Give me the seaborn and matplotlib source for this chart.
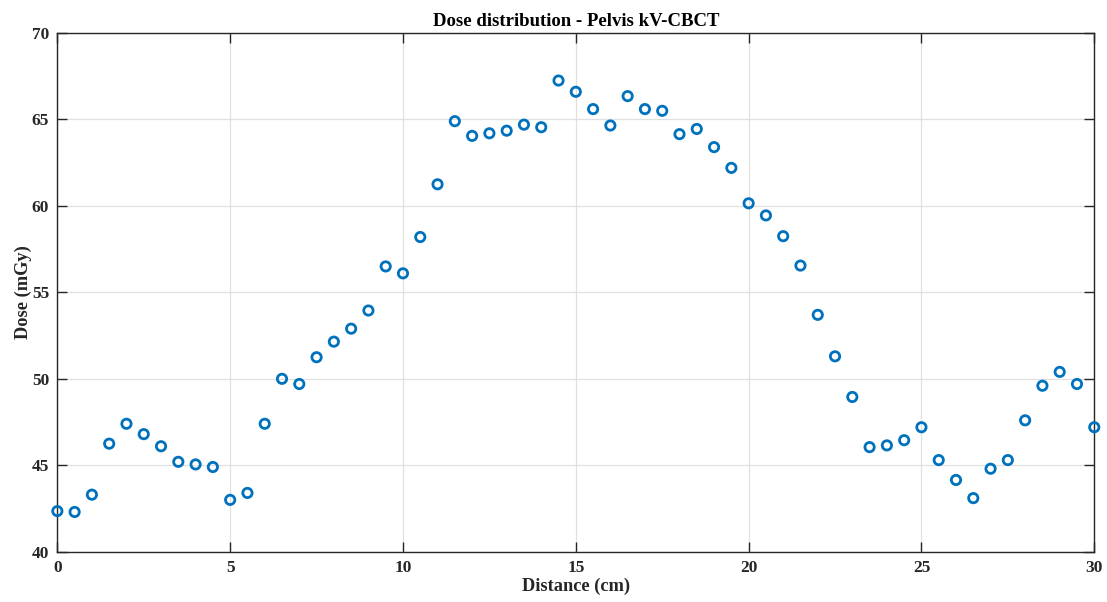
import numpy as np
import pandas as pd
import matplotlib
matplotlib.use("Agg")
import matplotlib.pyplot as plt
import seaborn as sns

# Measurement positions along the phantom (cm) and measured dose (mGy)
distance_cm = [0, 0.5, 1, 1.5, 2, 2.5, 3, 3.5, 4, 4.5,
               5, 5.5, 6, 6.5, 7, 7.5, 8, 8.5, 9, 9.5,
               10, 10.5, 11, 11.5, 12, 12.5, 13, 13.5, 14, 14.5,
               15, 15.5, 16, 16.5, 17, 17.5, 18, 18.5, 19, 19.5,
               20, 20.5, 21, 21.5, 22, 22.5, 23, 23.5, 24, 24.5,
               25, 25.5, 26, 26.5, 27, 27.5, 28, 28.5, 29, 29.5, 30]
dose_mgy = [42.35, 42.3, 43.3, 46.25, 47.4, 46.8, 46.1, 45.2, 45.05, 44.9,
            43.0, 43.4, 47.4, 50.0, 49.7, 51.25, 52.15, 52.9, 53.95, 56.5,
            56.1, 58.2, 61.25, 64.9, 64.05, 64.2, 64.35, 64.7, 64.55, 67.25,
            66.6, 65.6, 64.65, 66.35, 65.6, 65.5, 64.15, 64.45, 63.4, 62.2,
            60.15, 59.45, 58.25, 56.55, 53.7, 51.3, 48.95, 46.05, 46.15, 46.45,
            47.2, 45.3, 44.15, 43.1, 44.8, 45.3, 47.6, 49.6, 50.4, 49.7, 47.2]

df = pd.DataFrame({"Distance": distance_cm, "Dose": dose_mgy})

sns.set_theme(style="whitegrid")
plt.rcParams["font.family"] = ["Liberation Serif", "DejaVu Serif"]
plt.rcParams["font.weight"] = "bold"

fig = plt.figure(figsize=(11.07, 6.02), dpi=100)
ax = fig.add_axes([0.0518, 0.0835, 0.9367, 0.8617])

sns.scatterplot(data=df, x="Distance", y="Dose", ax=ax, marker="o",
                s=45, facecolor="none", edgecolor="#0072BD", linewidth=2.0,
                clip_on=False, zorder=3)

ax.set_xlim(0, 30)
ax.set_ylim(40, 70)
ax.set_xticks(np.arange(0, 31, 5))
ax.set_yticks(np.arange(40, 71, 5))

ax.grid(True, color="#e0e0e0", linewidth=0.9)
ax.set_axisbelow(True)
for side in ["left", "right", "top", "bottom"]:
    ax.spines[side].set_visible(True)
    ax.spines[side].set_color("#262626")
    ax.spines[side].set_linewidth(1.0)

ax.tick_params(axis="both", which="major", direction="in", length=7,
               width=1.0, color="#262626", labelsize=12.5,
               labelcolor="#262626", top=True, right=True,
               left=True, bottom=True, pad=6)
for lbl in ax.get_xticklabels() + ax.get_yticklabels():
    lbl.set_fontweight("bold")

ax.set_xlabel("Distance (cm)", fontsize=13.2, fontweight="bold",
              color="#262626", labelpad=1)
ax.set_ylabel("Dose (mGy)", fontsize=13.2, fontweight="bold",
              color="#262626", labelpad=0)
ax.set_title("Dose distribution - Pelvis kV-CBCT", fontsize=13.5,
             fontweight="bold", color="black", pad=5)

fig.savefig("out.png", dpi=100, facecolor="white")
